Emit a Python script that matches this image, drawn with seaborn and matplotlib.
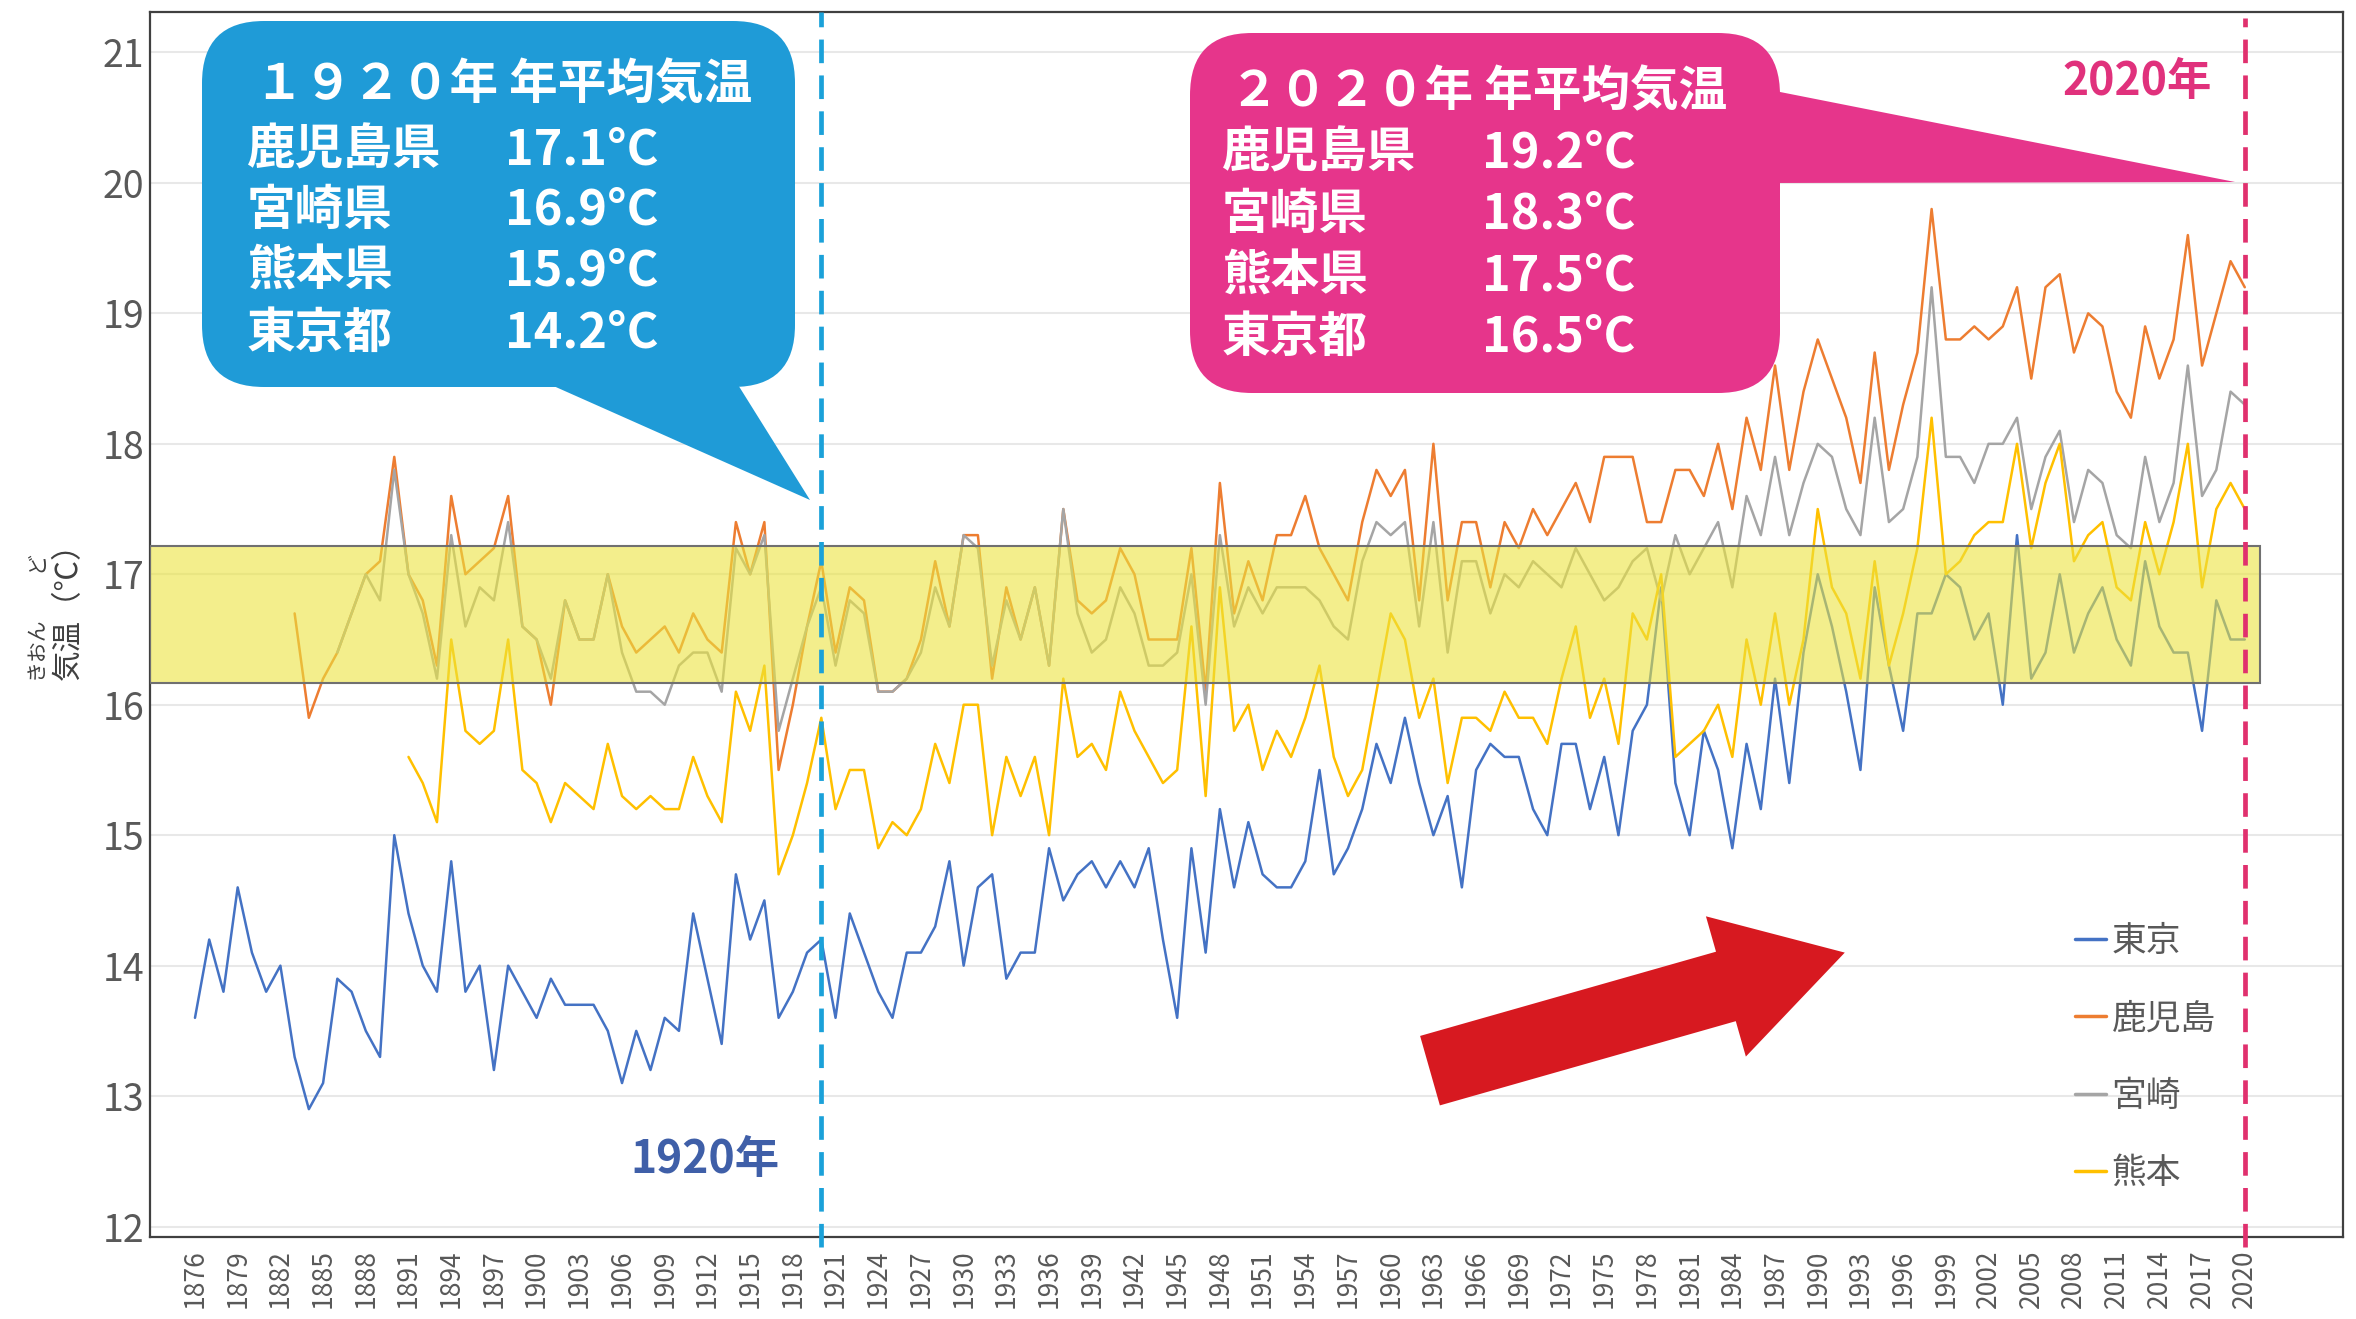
import pandas as pd
import matplotlib
matplotlib.use("Agg")
import matplotlib.pyplot as plt
import matplotlib.patches as mpatches
from matplotlib.lines import Line2D
from matplotlib.transforms import IdentityTransform
import seaborn as sns

# 年平均気温 (℃)
tokyo_start = 1876
tokyo = [13.6, 14.2, 13.8, 14.6,
         14.1, 13.8, 14.0, 13.3, 12.9, 13.1, 13.9, 13.8, 13.5, 13.3,
         15.0, 14.4, 14.0, 13.8, 14.8, 13.8, 14.0, 13.2, 14.0, 13.8,
         13.6, 13.9, 13.7, 13.7, 13.7, 13.5, 13.1, 13.5, 13.2, 13.6,
         13.5, 14.4, 13.9, 13.4, 14.7, 14.2, 14.5, 13.6, 13.8, 14.1,
         14.2, 13.6, 14.4, 14.1, 13.8, 13.6, 14.1, 14.1, 14.3, 14.8,
         14.0, 14.6, 14.7, 13.9, 14.1, 14.1, 14.9, 14.5, 14.7, 14.8,
         14.6, 14.8, 14.6, 14.9, 14.2, 13.6, 14.9, 14.1, 15.2, 14.6,
         15.1, 14.7, 14.6, 14.6, 14.8, 15.5, 14.7, 14.9, 15.2, 15.7,
         15.4, 15.9, 15.4, 15.0, 15.3, 14.6, 15.5, 15.7, 15.6, 15.6,
         15.2, 15.0, 15.7, 15.7, 15.2, 15.6, 15.0, 15.8, 16.0, 16.9,
         15.4, 15.0, 15.8, 15.5, 14.9, 15.7, 15.2, 16.2, 15.4, 16.4,
         17.0, 16.6, 16.1, 15.5, 16.9, 16.3, 15.8, 16.7, 16.7, 17.0,
         16.9, 16.5, 16.7, 16.0, 17.3, 16.2, 16.4, 17.0, 16.4, 16.7,
         16.9, 16.5, 16.3, 17.1, 16.6, 16.4, 16.4, 15.8, 16.8, 16.5,
         16.5]

kagoshima_start = 1883
kagoshima = [16.7, 15.9, 16.2, 16.4, 16.7, 17.0, 17.1,
             17.9, 17.0, 16.8, 16.3, 17.6, 17.0, 17.1, 17.2, 17.6, 16.6,
             16.5, 16.0, 16.8, 16.5, 16.5, 17.0, 16.6, 16.4, 16.5, 16.6,
             16.4, 16.7, 16.5, 16.4, 17.4, 17.0, 17.4, 15.5, 16.0, 16.6,
             17.1, 16.4, 16.9, 16.8, 16.1, 16.1, 16.2, 16.5, 17.1, 16.6,
             17.3, 17.3, 16.2, 16.9, 16.5, 16.9, 16.3, 17.5, 16.8, 16.7,
             16.8, 17.2, 17.0, 16.5, 16.5, 16.5, 17.2, 16.1, 17.7, 16.7,
             17.1, 16.8, 17.3, 17.3, 17.6, 17.2, 17.0, 16.8, 17.4, 17.8,
             17.6, 17.8, 16.8, 18.0, 16.8, 17.4, 17.4, 16.9, 17.4, 17.2,
             17.5, 17.3, 17.5, 17.7, 17.4, 17.9, 17.9, 17.9, 17.4, 17.4,
             17.8, 17.8, 17.6, 18.0, 17.5, 18.2, 17.8, 18.6, 17.8, 18.4,
             18.8, 18.5, 18.2, 17.7, 18.7, 17.8, 18.3, 18.7, 19.8, 18.8,
             18.8, 18.9, 18.8, 18.9, 19.2, 18.5, 19.2, 19.3, 18.7, 19.0,
             18.9, 18.4, 18.2, 18.9, 18.5, 18.8, 19.6, 18.6, 19.0, 19.4,
             19.2]

miyazaki_start = 1886
miyazaki = [16.4, 16.7, 17.0, 16.8,
            17.8, 17.0, 16.7, 16.2, 17.3, 16.6, 16.9, 16.8, 17.4, 16.6,
            16.5, 16.2, 16.8, 16.5, 16.5, 17.0, 16.4, 16.1, 16.1, 16.0,
            16.3, 16.4, 16.4, 16.1, 17.2, 17.0, 17.3, 15.8, 16.2, 16.6,
            16.9, 16.3, 16.8, 16.7, 16.1, 16.1, 16.2, 16.4, 16.9, 16.6,
            17.3, 17.2, 16.3, 16.8, 16.5, 16.9, 16.3, 17.5, 16.7, 16.4,
            16.5, 16.9, 16.7, 16.3, 16.3, 16.4, 17.0, 16.0, 17.3, 16.6,
            16.9, 16.7, 16.9, 16.9, 16.9, 16.8, 16.6, 16.5, 17.1, 17.4,
            17.3, 17.4, 16.6, 17.4, 16.4, 17.1, 17.1, 16.7, 17.0, 16.9,
            17.1, 17.0, 16.9, 17.2, 17.0, 16.8, 16.9, 17.1, 17.2, 16.8,
            17.3, 17.0, 17.2, 17.4, 16.9, 17.6, 17.3, 17.9, 17.3, 17.7,
            18.0, 17.9, 17.5, 17.3, 18.2, 17.4, 17.5, 17.9, 19.2, 17.9,
            17.9, 17.7, 18.0, 18.0, 18.2, 17.5, 17.9, 18.1, 17.4, 17.8,
            17.7, 17.3, 17.2, 17.9, 17.4, 17.7, 18.6, 17.6, 17.8, 18.4,
            18.3]

kumamoto_start = 1891
kumamoto = [15.6, 15.4, 15.1, 16.5, 15.8, 15.7, 15.8, 16.5, 15.5,
            15.4, 15.1, 15.4, 15.3, 15.2, 15.7, 15.3, 15.2, 15.3, 15.2,
            15.2, 15.6, 15.3, 15.1, 16.1, 15.8, 16.3, 14.7, 15.0, 15.4,
            15.9, 15.2, 15.5, 15.5, 14.9, 15.1, 15.0, 15.2, 15.7, 15.4,
            16.0, 16.0, 15.0, 15.6, 15.3, 15.6, 15.0, 16.2, 15.6, 15.7,
            15.5, 16.1, 15.8, 15.6, 15.4, 15.5, 16.6, 15.3, 16.9, 15.8,
            16.0, 15.5, 15.8, 15.6, 15.9, 16.3, 15.6, 15.3, 15.5, 16.1,
            16.7, 16.5, 15.9, 16.2, 15.4, 15.9, 15.9, 15.8, 16.1, 15.9,
            15.9, 15.7, 16.2, 16.6, 15.9, 16.2, 15.7, 16.7, 16.5, 17.0,
            15.6, 15.7, 15.8, 16.0, 15.6, 16.5, 16.0, 16.7, 16.0, 16.5,
            17.5, 16.9, 16.7, 16.2, 17.1, 16.3, 16.7, 17.2, 18.2, 17.0,
            17.1, 17.3, 17.4, 17.4, 18.0, 17.2, 17.7, 18.0, 17.1, 17.3,
            17.4, 16.9, 16.8, 17.4, 17.0, 17.4, 18.0, 16.9, 17.5, 17.7,
            17.5]

cities = ["東京", "鹿児島", "宮崎", "熊本"]
colors = ["#4472C4", "#ED7D31", "#A5A5A5", "#FFC000"]

box_labels = ["鹿児島県", "宮崎県", "熊本県", "東京都"]
values_1920 = ["17.1°C", "16.9°C", "15.9°C", "14.2°C"]
values_2020 = ["19.2°C", "18.3°C", "17.5°C", "16.5°C"]

band_low, band_high = 16.17, 17.22

rows = []
for name, start, vals in [("東京", tokyo_start, tokyo),
                          ("鹿児島", kagoshima_start, kagoshima),
                          ("宮崎", miyazaki_start, miyazaki),
                          ("熊本", kumamoto_start, kumamoto)]:
    assert start + len(vals) - 1 == 2020, (name, len(vals))
    for i, v in enumerate(vals):
        rows.append((start + i, v, name))
df = pd.DataFrame(rows, columns=["year", "temp", "city"])

sns.set_style("white")
plt.rcParams["font.family"] = ["Noto Sans CJK JP", "DejaVu Sans"]

W, H = 2356, 1319
fig = plt.figure(figsize=(W / 100, H / 100), dpi=100)
ax = fig.add_axes([150 / W, 1 - 1237 / H, (2343 - 150) / W, (1237 - 12) / H])

def px(x, y):
    # image pixel (from top-left) -> display coords
    return (x, H - y)

sns.lineplot(data=df, x="year", y="temp", hue="city", hue_order=cities,
             palette=colors, linewidth=1.8, errorbar=None, legend=False,
             ax=ax, zorder=3)

ax.set_xlim(1872.84, 2026.9)
ax.set_ylim(11.92, 21.31)
ax.set_xticks(range(1876, 2021, 3))
ax.set_xticklabels([str(y) for y in range(1876, 2021, 3)], rotation=90)
ax.set_yticks(range(12, 22))
ax.tick_params(axis="x", length=0, labelsize=19, labelcolor="#595959", pad=9)
ax.tick_params(axis="y", length=0, labelsize=27, labelcolor="#595959", pad=4)
ax.set_xlabel("")
ax.set_ylabel("")
ax.set_axisbelow(True)
ax.yaxis.grid(True, color="#E8E8E8", lw=1.5)
ax.xaxis.grid(False)
for s in ax.spines.values():
    s.set_color("#404040")
    s.set_linewidth(1.6)

# yellow band (1920 range)
ax.add_patch(mpatches.Rectangle((ax.get_xlim()[0], band_low), 2021.1 - ax.get_xlim()[0],
                                band_high - band_low,
                                facecolor=(235 / 255, 227 / 255, 63 / 255, 0.6),
                                edgecolor="#707070", lw=1.5, zorder=4))

# dashed markers
ax.axvline(1920, ymin=-0.008, ymax=1, color="#1BA1D9", lw=3.4,
           ls=(0, (5, 2.6)), zorder=5, clip_on=False)
ax.axvline(2020, ymin=-0.008, ymax=0.995, color="#E0306E", lw=3.4,
           ls=(0, (5, 2.6)), zorder=5, clip_on=False)

# red trend arrow
arrow = mpatches.FancyArrowPatch((1962.76, 13.195), (1991.9, 14.10),
                                 arrowstyle="simple,head_length=89,head_width=105,tail_width=52",
                                 mutation_scale=1, color="#D71920", lw=0,
                                 shrinkA=0, shrinkB=0, zorder=6)
ax.add_patch(arrow)

# callout boxes
blue = "#1F9BD7"
pink = "#E6358B"
idt = IdentityTransform()

fig.add_artist(mpatches.Polygon([px(540, 380), px(735, 380), px(810, 500)],
                                closed=True, fc=blue, ec="none", transform=idt, zorder=7))
fig.add_artist(mpatches.FancyBboxPatch(px(202, 387), 795 - 202, 387 - 21,
                                       boxstyle="round,pad=0,rounding_size=62",
                                       fc=blue, ec="none", transform=idt, zorder=7))

fig.add_artist(mpatches.Polygon([px(1770, 90), px(2235, 182), px(1770, 183)],
                                closed=True, fc=pink, ec="none", transform=idt, zorder=7))
fig.add_artist(mpatches.FancyBboxPatch(px(1190, 393), 1780 - 1190, 393 - 33,
                                       boxstyle="round,pad=0,rounding_size=62",
                                       fc=pink, ec="none", transform=idt, zorder=7))

txt = dict(color="white", fontsize=35, fontweight="bold", va="center", ha="left", zorder=8)
fig.text(255 / W, 1 - 85 / H, "１９２０年 年平均気温", **txt)
fig.text(1230 / W, 1 - 92 / H, "２０２０年 年平均気温", **txt)
rows_1920 = [150, 210, 271, 333]
rows_2020 = [153, 214, 276, 337]
for lab, v1, v2, y1, y2 in zip(box_labels, values_1920, values_2020, rows_1920, rows_2020):
    fig.text(247 / W, 1 - y1 / H, lab, **txt)
    fig.text(505 / W, 1 - y1 / H, v1, **txt)
    fig.text(1222 / W, 1 - y2 / H, lab, **txt)
    fig.text(1482 / W, 1 - y2 / H, v2, **txt)

fig.text(705 / W, 1 - 1160 / H, "1920年", color="#3F5FA8", fontsize=32,
         fontweight="bold", ha="center", va="center")
fig.text(2137 / W, 1 - 82 / H, "2020年", color="#E0317C", fontsize=32,
         fontweight="bold", ha="center", va="center")

# y label with furigana
fig.text(68 / W, 1 - 604 / H, "気温（℃）", rotation=90, ha="center", va="center",
         fontsize=22, color="#404040")
fig.text(36 / W, 1 - 648 / H, "きおん", rotation=90, ha="center", va="center",
         fontsize=15, color="#404040")
fig.text(36 / W, 1 - 562 / H, "ど", rotation=90, ha="center", va="center",
         fontsize=15, color="#404040")

handles = [Line2D([], [], color=c, lw=2.5) for c in colors]
ax.legend(handles, cities, loc="upper left",
          bbox_to_anchor=(2075 / W, 1 - 924 / H), bbox_transform=fig.transFigure,
          frameon=False, fontsize=25, labelcolor="#595959",
          handlelength=0.9, handletextpad=0.15, labelspacing=1.22,
          borderpad=0, borderaxespad=0)

fig.savefig("out.png", dpi=100)
